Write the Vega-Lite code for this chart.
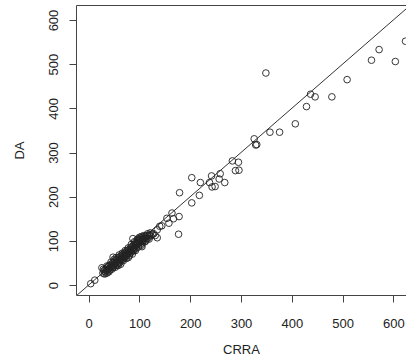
{
  "$schema": "https://vega.github.io/schema/vega-lite/v6.json",
  "autosize": "none",
  "width": 330,
  "height": 290,
  "padding": {"left": 76, "top": 5, "right": 0, "bottom": 69},
  "background": "white",
  "config": {
    "view": {"stroke": "#444", "strokeWidth": 1},
    "font": "Liberation Sans",
    "axis": {
      "grid": false,
      "domain": false,
      "tickColor": "#444",
      "tickSize": 7,
      "labelFont": "Liberation Sans",
      "titleFont": "Liberation Sans",
      "labelFontSize": 13,
      "titleFontSize": 13,
      "titleFontWeight": "normal",
      "labelColor": "#222",
      "titleColor": "#222"
    }
  },
  "datasets": {
    "pts": [
      {"CRRA": 4, "DA": 3}, {"CRRA": 12, "DA": 11},
      {"CRRA": 26, "DA": 39}, {"CRRA": 28, "DA": 27}, {"CRRA": 30, "DA": 32}, {"CRRA": 31, "DA": 25},
      {"CRRA": 32, "DA": 35}, {"CRRA": 33, "DA": 30}, {"CRRA": 35, "DA": 38}, {"CRRA": 36, "DA": 33},
      {"CRRA": 37, "DA": 28}, {"CRRA": 38, "DA": 41}, {"CRRA": 39, "DA": 36}, {"CRRA": 40, "DA": 44},
      {"CRRA": 41, "DA": 38}, {"CRRA": 42, "DA": 34}, {"CRRA": 43, "DA": 46}, {"CRRA": 44, "DA": 40},
      {"CRRA": 45, "DA": 43}, {"CRRA": 46, "DA": 36}, {"CRRA": 47, "DA": 50}, {"CRRA": 48, "DA": 63},
      {"CRRA": 48, "DA": 45}, {"CRRA": 49, "DA": 41}, {"CRRA": 50, "DA": 52}, {"CRRA": 51, "DA": 47},
      {"CRRA": 52, "DA": 55}, {"CRRA": 53, "DA": 44}, {"CRRA": 54, "DA": 50}, {"CRRA": 55, "DA": 58},
      {"CRRA": 56, "DA": 53}, {"CRRA": 57, "DA": 48}, {"CRRA": 58, "DA": 44}, {"CRRA": 58, "DA": 61},
      {"CRRA": 59, "DA": 56}, {"CRRA": 60, "DA": 52}, {"CRRA": 61, "DA": 64}, {"CRRA": 62, "DA": 59},
      {"CRRA": 63, "DA": 47}, {"CRRA": 64, "DA": 66}, {"CRRA": 65, "DA": 62}, {"CRRA": 66, "DA": 57},
      {"CRRA": 67, "DA": 69}, {"CRRA": 68, "DA": 64}, {"CRRA": 69, "DA": 60}, {"CRRA": 70, "DA": 72},
      {"CRRA": 71, "DA": 67}, {"CRRA": 72, "DA": 63}, {"CRRA": 73, "DA": 75}, {"CRRA": 74, "DA": 70},
      {"CRRA": 75, "DA": 66}, {"CRRA": 76, "DA": 78}, {"CRRA": 77, "DA": 73}, {"CRRA": 78, "DA": 62},
      {"CRRA": 79, "DA": 80}, {"CRRA": 80, "DA": 76}, {"CRRA": 81, "DA": 71}, {"CRRA": 82, "DA": 84},
      {"CRRA": 83, "DA": 79}, {"CRRA": 84, "DA": 74}, {"CRRA": 85, "DA": 87}, {"CRRA": 86, "DA": 82},
      {"CRRA": 87, "DA": 105}, {"CRRA": 87, "DA": 77}, {"CRRA": 88, "DA": 90}, {"CRRA": 89, "DA": 85},
      {"CRRA": 90, "DA": 80}, {"CRRA": 91, "DA": 93}, {"CRRA": 92, "DA": 88}, {"CRRA": 93, "DA": 98},
      {"CRRA": 94, "DA": 84}, {"CRRA": 95, "DA": 97}, {"CRRA": 96, "DA": 92}, {"CRRA": 97, "DA": 101},
      {"CRRA": 98, "DA": 94}, {"CRRA": 99, "DA": 104}, {"CRRA": 100, "DA": 96}, {"CRRA": 101, "DA": 100},
      {"CRRA": 102, "DA": 106}, {"CRRA": 103, "DA": 98}, {"CRRA": 104, "DA": 90}, {"CRRA": 105, "DA": 87},
      {"CRRA": 105, "DA": 103}, {"CRRA": 106, "DA": 108}, {"CRRA": 107, "DA": 101}, {"CRRA": 108, "DA": 104},
      {"CRRA": 110, "DA": 106}, {"CRRA": 111, "DA": 110}, {"CRRA": 112, "DA": 100}, {"CRRA": 113, "DA": 108},
      {"CRRA": 115, "DA": 112}, {"CRRA": 117, "DA": 106}, {"CRRA": 119, "DA": 112}, {"CRRA": 120, "DA": 114},
      {"CRRA": 122, "DA": 111}, {"CRRA": 125, "DA": 115}, {"CRRA": 128, "DA": 116},
      {"CRRA": 29, "DA": 36}, {"CRRA": 34, "DA": 26}, {"CRRA": 36, "DA": 43}, {"CRRA": 40, "DA": 30},
      {"CRRA": 44, "DA": 52}, {"CRRA": 47, "DA": 39}, {"CRRA": 50, "DA": 58}, {"CRRA": 52, "DA": 40},
      {"CRRA": 54, "DA": 62}, {"CRRA": 56, "DA": 45}, {"CRRA": 60, "DA": 68}, {"CRRA": 61, "DA": 50},
      {"CRRA": 63, "DA": 58}, {"CRRA": 66, "DA": 72}, {"CRRA": 68, "DA": 55}, {"CRRA": 70, "DA": 64},
      {"CRRA": 72, "DA": 78}, {"CRRA": 74, "DA": 60}, {"CRRA": 76, "DA": 70}, {"CRRA": 78, "DA": 84},
      {"CRRA": 80, "DA": 66}, {"CRRA": 82, "DA": 76}, {"CRRA": 84, "DA": 92}, {"CRRA": 86, "DA": 70},
      {"CRRA": 88, "DA": 80}, {"CRRA": 90, "DA": 98}, {"CRRA": 92, "DA": 78}, {"CRRA": 94, "DA": 90},
      {"CRRA": 96, "DA": 104}, {"CRRA": 98, "DA": 86}, {"CRRA": 100, "DA": 108}, {"CRRA": 102, "DA": 92},
      {"CRRA": 104, "DA": 110}, {"CRRA": 106, "DA": 96}, {"CRRA": 109, "DA": 112}, {"CRRA": 111, "DA": 98},
      {"CRRA": 114, "DA": 104}, {"CRRA": 116, "DA": 116}, {"CRRA": 119, "DA": 104}, {"CRRA": 121, "DA": 118},
      {"CRRA": 131, "DA": 112}, {"CRRA": 135, "DA": 107}, {"CRRA": 135, "DA": 125}, {"CRRA": 140, "DA": 133},
      {"CRRA": 144, "DA": 134}, {"CRRA": 154, "DA": 151}, {"CRRA": 158, "DA": 140}, {"CRRA": 164, "DA": 163},
      {"CRRA": 167, "DA": 150}, {"CRRA": 178, "DA": 155}, {"CRRA": 177, "DA": 115}, {"CRRA": 179, "DA": 209},
      {"CRRA": 203, "DA": 186}, {"CRRA": 203, "DA": 243}, {"CRRA": 218, "DA": 203}, {"CRRA": 220, "DA": 232},
      {"CRRA": 238, "DA": 232}, {"CRRA": 242, "DA": 247}, {"CRRA": 243, "DA": 222}, {"CRRA": 249, "DA": 223},
      {"CRRA": 257, "DA": 240}, {"CRRA": 259, "DA": 252}, {"CRRA": 268, "DA": 232}, {"CRRA": 283, "DA": 281},
      {"CRRA": 289, "DA": 259}, {"CRRA": 295, "DA": 278}, {"CRRA": 296, "DA": 260}, {"CRRA": 326, "DA": 331},
      {"CRRA": 329, "DA": 317}, {"CRRA": 331, "DA": 318}, {"CRRA": 349, "DA": 480}, {"CRRA": 357, "DA": 346},
      {"CRRA": 376, "DA": 346}, {"CRRA": 407, "DA": 365}, {"CRRA": 429, "DA": 404}, {"CRRA": 437, "DA": 432},
      {"CRRA": 446, "DA": 426}, {"CRRA": 479, "DA": 426}, {"CRRA": 509, "DA": 465}, {"CRRA": 557, "DA": 509},
      {"CRRA": 572, "DA": 533}, {"CRRA": 604, "DA": 506}, {"CRRA": 624, "DA": 552}
    ],
    "diag": [{"x": -40, "y": -40, "x2": 700, "y2": 700}]
  },
  "layer": [
    {
      "data": {"name": "diag"},
      "mark": {"type": "rule", "clip": true, "color": "#333", "strokeWidth": 1},
      "encoding": {
        "x": {"field": "x", "type": "quantitative", "scale": {"domain": [-25, 625], "nice": false, "zero": false}},
        "y": {"field": "y", "type": "quantitative", "scale": {"domain": [-22.6, 634], "nice": false, "zero": false}},
        "x2": {"field": "x2"},
        "y2": {"field": "y2"}
      }
    },
    {
      "data": {"name": "pts"},
      "mark": {"type": "point", "shape": "circle", "filled": false, "clip": true, "size": 44, "stroke": "#222", "strokeWidth": 1, "opacity": 0.9},
      "encoding": {
        "x": {
          "field": "CRRA", "type": "quantitative",
          "scale": {"domain": [-25, 625], "nice": false, "zero": false},
          "axis": {"values": [0, 100, 200, 300, 400, 500, 600], "title": "CRRA", "labelPadding": 15, "titlePadding": 13}
        },
        "y": {
          "field": "DA", "type": "quantitative",
          "scale": {"domain": [-22.6, 634], "nice": false, "zero": false},
          "axis": {"values": [0, 100, 200, 300, 400, 500, 600], "title": "DA", "labelAngle": 270, "labelAlign": "center", "labelBaseline": "bottom", "labelPadding": 9, "titlePadding": 21}
        }
      }
    }
  ]
}
